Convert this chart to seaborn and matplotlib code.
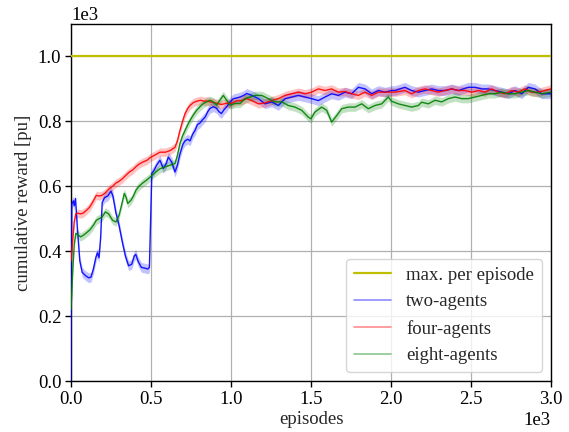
import numpy as np
import pandas as pd
import matplotlib
matplotlib.use("Agg")
import matplotlib.pyplot as plt
import seaborn as sns
from matplotlib.lines import Line2D
from matplotlib.ticker import ScalarFormatter

# ---------------- data ----------------
max_per_episode = 1000

two_ep = [0, 5, 15, 20, 28, 40, 55, 70, 90, 110, 125, 140, 155, 165, 175, 185, 195, 210, 230, 250,
          262, 280, 300, 320, 340, 360, 380, 395, 405, 420, 440, 460, 480, 490, 505, 520, 535, 556,
          577, 595, 608, 629, 650, 665, 681, 700, 713, 730, 744, 760, 775, 790, 806, 822, 838, 855,
          869, 890, 910, 925, 940, 955, 973, 995, 1015, 1035, 1056, 1080, 1098, 1130, 1171, 1213,
          1254, 1296, 1338, 1379, 1421, 1463, 1504, 1546, 1588, 1629, 1671, 1713, 1754, 1796, 1838,
          1879, 1921, 1963, 2004, 2025, 2087, 2129, 2171, 2212, 2254, 2296, 2337, 2379, 2421, 2483,
          2525, 2567, 2608, 2650, 2692, 2733, 2775, 2817, 2858, 2900, 2942, 3000]
two_val = [0, 545, 555, 540, 562, 470, 370, 335, 325, 318, 320, 345, 380, 395, 380, 440, 550, 565,
           570, 585, 570, 520, 480, 430, 385, 355, 360, 385, 390, 368, 350, 348, 345, 350, 640, 650,
           665, 680, 655, 670, 690, 675, 644, 665, 700, 730, 740, 745, 740, 760, 772, 790, 795, 805,
           813, 830, 840, 845, 840, 830, 824, 835, 845, 860, 870, 872, 875, 880, 886, 880, 870, 854,
           860, 849, 870, 875, 880, 875, 870, 864, 875, 885, 880, 890, 885, 905, 900, 885, 895, 890,
           895, 895, 905, 895, 890, 895, 900, 895, 895, 900, 895, 905, 905, 900, 900, 895, 890, 885,
           895, 885, 905, 900, 885, 885]

four_ep = [0, 10, 20, 30, 44, 60, 75, 95, 117, 140, 158, 175, 194, 215, 240, 260, 281, 300, 323,
           345, 365, 385, 405, 425, 450, 475, 494, 520, 556, 590, 619, 650, 665, 681, 697, 713, 730,
           744, 765, 785, 810, 830, 848, 870, 890, 910, 940, 973, 1000, 1035, 1067, 1098, 1130, 1171,
           1213, 1254, 1296, 1338, 1379, 1421, 1463, 1504, 1546, 1588, 1629, 1671, 1713, 1754, 1796,
           1838, 1879, 1921, 1963, 2025, 2087, 2129, 2171, 2212, 2254, 2296, 2337, 2379, 2421, 2462,
           2504, 2546, 2587, 2629, 2671, 2712, 2754, 2796, 2837, 2879, 2921, 2962, 3000]
four_val = [370, 430, 490, 515, 517, 515, 517, 525, 536, 555, 572, 570, 572, 580, 593, 600, 610, 615,
            624, 635, 644, 650, 660, 668, 675, 680, 688, 695, 705, 705, 710, 720, 740, 772, 800, 824,
            840, 849, 858, 862, 865, 862, 863, 860, 858, 856, 852, 856, 855, 863, 864, 870, 864, 854,
            857, 864, 870, 880, 885, 890, 885, 890, 900, 895, 900, 890, 892, 885, 880, 890, 880, 890,
            890, 890, 895, 885, 895, 900, 895, 890, 895, 900, 895, 895, 890, 895, 890, 900, 890, 885,
            895, 890, 900, 890, 890, 895, 900]

eight_ep = [0, 10, 20, 30, 45, 60, 80, 100, 117, 140, 158, 175, 194, 215, 235, 260, 281, 300, 313,
            333, 345, 354, 375, 390, 406, 425, 448, 470, 494, 520, 556, 590, 619, 650, 665, 681, 697,
            713, 730, 744, 765, 785, 806, 827, 848, 869, 890, 910, 930, 952, 973, 994, 1025, 1056,
            1088, 1150, 1192, 1233, 1275, 1317, 1358, 1400, 1442, 1483, 1500, 1525, 1567, 1598, 1629,
            1661, 1692, 1733, 1775, 1817, 1858, 1900, 1942, 1983, 2004, 2046, 2087, 2129, 2171, 2192,
            2233, 2275, 2317, 2358, 2400, 2442, 2483, 2525, 2567, 2608, 2650, 2692, 2733, 2775, 2817,
            2858, 2900, 2942, 3000]
eight_val = [220, 330, 420, 455, 450, 444, 450, 458, 465, 480, 495, 500, 505, 521, 515, 495, 490, 510,
             536, 578, 565, 547, 557, 570, 588, 600, 610, 618, 628, 640, 654, 660, 665, 670, 695, 732,
             755, 772, 790, 803, 820, 834, 845, 855, 860, 865, 860, 850, 865, 880, 865, 850, 855, 855,
             870, 880, 880, 870, 860, 860, 849, 844, 834, 813, 808, 829, 844, 834, 798, 818, 839, 844,
             844, 854, 839, 849, 854, 875, 862, 854, 849, 844, 849, 859, 854, 865, 860, 870, 875, 870,
             870, 875, 880, 885, 885, 890, 885, 885, 890, 895, 890, 885, 890]

series_names = ["two-agents", "four-agents", "eight-agents"]
series_episodes = [two_ep, four_ep, eight_ep]
series_values = [two_val, four_val, eight_val]
band_halfwidth = [15, 13, 13]
series_colors = ["#0000ff", "#ff0000", "#008000"]
max_label = "max. per episode"

# ---------------- style ----------------
sns.set_theme(style="whitegrid", rc={
    "axes.edgecolor": "black",
    "axes.linewidth": 1.0,
    "grid.color": "#b0b0b0",
    "grid.linewidth": 0.9,
    "xtick.bottom": True,
    "ytick.left": True,
    "xtick.color": "black",
    "ytick.color": "black",
    "xtick.major.size": 4,
    "ytick.major.size": 4,
    "xtick.major.width": 1.0,
    "ytick.major.width": 1.0,
})
plt.rcParams["font.family"] = ["Liberation Serif", "DejaVu Serif"]
plt.rcParams["mathtext.fontset"] = "stix"
FS = 13.5

fig = plt.figure(figsize=(5.69, 4.32), dpi=100)
ax = fig.add_axes([71 / 569, 1 - 381 / 432, 480 / 569, 357 / 432])

ax.axhline(max_per_episode, color="#bfbf00", lw=1.6, zorder=3)

for name, ep, val, bw, col in zip(series_names, series_episodes, series_values,
                                  band_halfwidth, series_colors):
    df = pd.DataFrame({"episode": ep, "reward": val})
    v = np.asarray(val, dtype=float)
    ax.fill_between(ep, v - bw, v + bw, color=col, alpha=0.24, lw=0, zorder=2)
    sns.lineplot(data=df, x="episode", y="reward", ax=ax, color=col, lw=1.0,
                 alpha=0.9, zorder=4, legend=False)

ax.set_xlim(0, 3000)
ax.set_ylim(0, 1100)
ax.set_xticks(np.arange(0, 3001, 500))
ax.set_yticks(np.arange(0, 1001, 200))
for axis in (ax.xaxis, ax.yaxis):
    fmt = ScalarFormatter(useMathText=False)
    fmt.set_powerlimits((0, 0))
    axis.set_major_formatter(fmt)
ax.tick_params(labelsize=FS, pad=3)
ax.xaxis.get_offset_text().set_fontsize(FS)
ax.yaxis.get_offset_text().set_fontsize(FS)
ax.set_xlabel("episodes", fontsize=FS, labelpad=2)
ax.set_ylabel("cumulative reward [pu]", fontsize=FS, labelpad=4)
for s in ax.spines.values():
    s.set_color("black")

handles = [Line2D([], [], color="#bfbf00", lw=1.6)]
handles += [Line2D([], [], color=c, lw=1.2, alpha=0.45) for c in series_colors]
ax.legend(handles, [max_label] + series_names, loc="lower right", fontsize=FS,
          frameon=True, framealpha=0.8, edgecolor="#cccccc", fancybox=True)

fig.savefig("out.png", dpi=100)
